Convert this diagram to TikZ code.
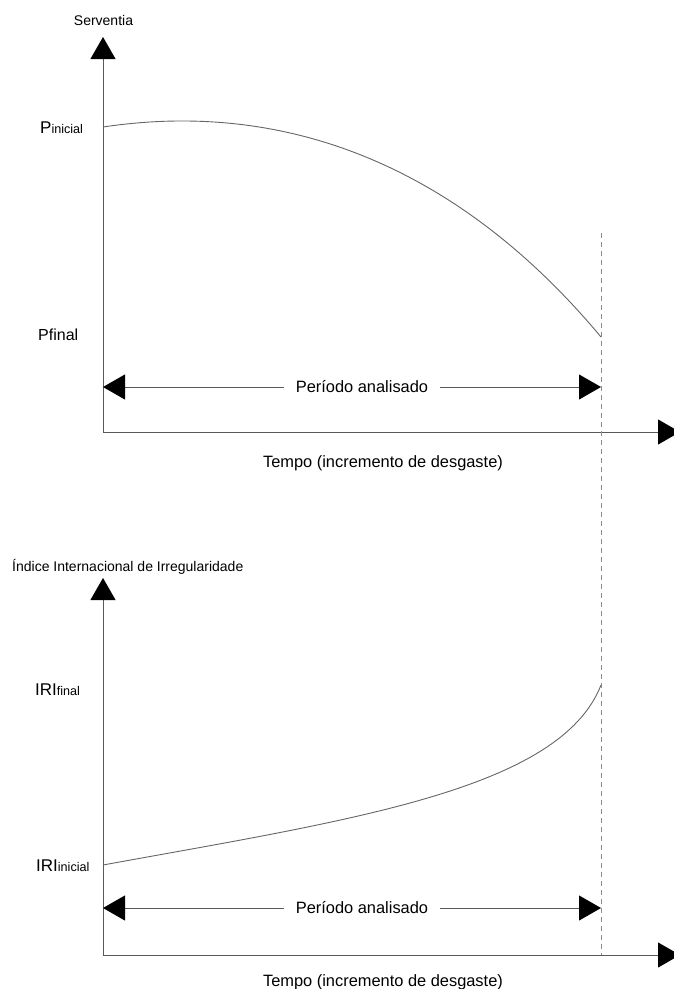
\documentclass[tikz,border=0pt]{standalone}
\usepackage{fontspec}
\setmainfont{Liberation Sans}
\usetikzlibrary{arrows.meta}

\tikzset{
  axisline/.style={draw=black!65, line width=0.9pt},
  curveline/.style={draw=black!60, line width=0.9pt},
  guideline/.style={draw=black!45, line width=0.8pt, dash pattern=on 5pt off 4pt},
  bigtip/.style={-{Triangle[length=22pt,width=25pt,color=black]}},
  bothtips/.style={{Triangle[length=22pt,width=25pt,color=black]}-{Triangle[length=22pt,width=25pt,color=black]}},
  title/.style={font=\fontsize{14}{16}\selectfont, inner sep=0pt},
  caption/.style={font=\fontsize{16.4}{19}\selectfont, inner sep=0pt},
  spanlabel/.style={font=\fontsize{16.4}{19}\selectfont, fill=white, inner xsep=12pt, inner ysep=2pt},
  ylabel/.style={anchor=west, inner sep=0pt},
}
\newcommand{\bigsub}[2]{{\fontsize{17}{19}\selectfont #1}{\fontsize{12.6}{15}\selectfont #2}}

\begin{document}
\begin{tikzpicture}[x=1pt,y=-1pt]
  \useasboundingbox[fill=white] (0,0) rectangle (673,989);

  % ---------- upper chart: serventia ----------
  \coordinate (o1) at (103,432);
  \coordinate (ytop1) at (103,37);
  \coordinate (xend1) at (680,432);
  \draw[axisline,bigtip] (o1) -- (ytop1);
  \draw[axisline,bigtip] (o1) -- (xend1);
  \node[title] (serv) at (103.5,20) {Serventia};

  \node[ylabel] (pini) at (40,128) {\bigsub{P}{inicial}};
  \node[ylabel, font=\fontsize{16}{19}\selectfont] (pfin) at (38,335) {Pfinal};

  \coordinate (c1a) at (103,127);
  \coordinate (c1b) at (601,337);
  \draw[curveline] (c1a) .. controls (303,97) and (471,181) .. (c1b);

  \coordinate (pa1) at (103,387);
  \coordinate (pb1) at (601,387);
  \draw[axisline,bothtips] (pa1) -- (pb1);
  \node[spanlabel] (per1) at (362,387) {Período analisado};

  \node[caption] (tempo1) at (383,463) {Tempo (incremento de desgaste)};

  % ---------- lower chart: IRI ----------
  \coordinate (o2) at (103,955);
  \coordinate (ytop2) at (103,578);
  \coordinate (xend2) at (680,955);
  \draw[axisline,bigtip] (o2) -- (ytop2);
  \draw[axisline,bigtip] (o2) -- (xend2);
  \node[title, anchor=west] (iri) at (12,567) {Índice Internacional de Irregularidade};

  \node[ylabel] (irifin) at (35,690) {\bigsub{IRI}{final}};
  \node[ylabel] (iriini) at (36,866) {\bigsub{IRI}{inicial}};

  \coordinate (c2a) at (103,865);
  \coordinate (c2b) at (601,685);
  \draw[curveline] (c2a) .. controls (350,820) and (560,790) .. (c2b);

  \coordinate (pa2) at (103,908);
  \coordinate (pb2) at (601,908);
  \draw[axisline,bothtips] (pa2) -- (pb2);
  \node[spanlabel] (per2) at (362,908) {Período analisado};

  \node[caption] (tempo2) at (383,982) {Tempo (incremento de desgaste)};

  % ---------- end of the analysed period ----------
  \coordinate (gtop) at (601,233);
  \coordinate (gbot) at (601,955);
  \draw[guideline] (gtop) -- (gbot);
\end{tikzpicture}
\end{document}
